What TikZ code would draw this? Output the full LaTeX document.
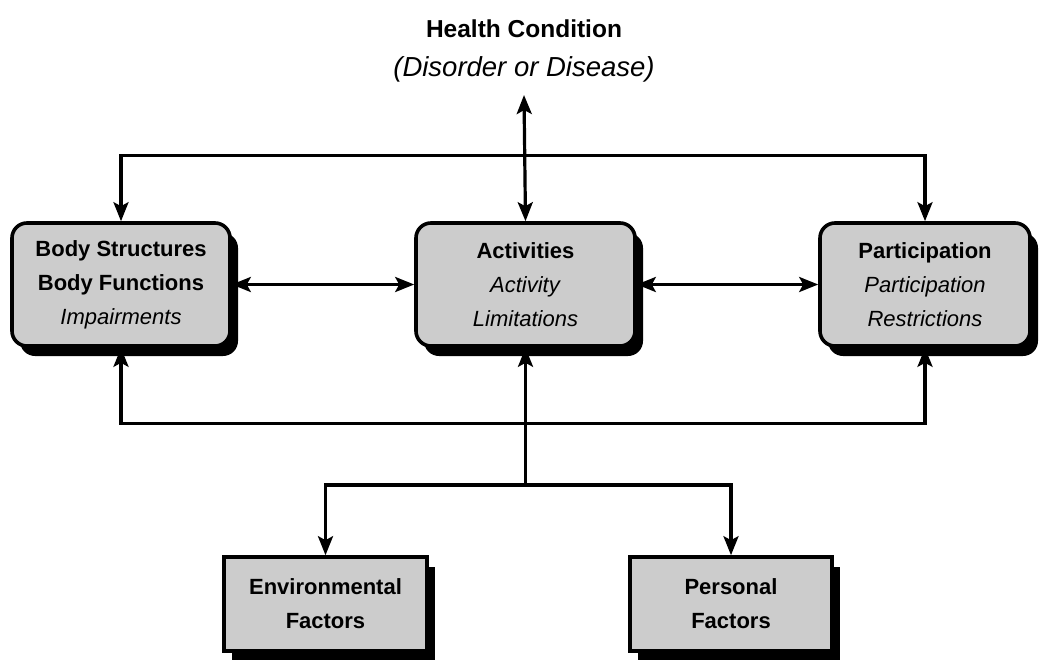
\documentclass[tikz,border=0pt]{standalone}
\usepackage{fontspec}
\setmainfont{Liberation Sans}
\usetikzlibrary{positioning}
\usetikzlibrary{arrows.meta}
\usetikzlibrary{shadows}
\newcommand{\boxfont}{\fontsize{22}{34}\selectfont}

\begin{document}
\begin{tikzpicture}[x=1pt, y=-1pt,
    >={Stealth[length=19pt, width=15pt, inset=4pt]},
    link/.style={line width=3.2pt},
    compbox/.style={draw, line width=3.6pt, fill=black!20, rounded corners=15pt,
        minimum width=218pt, minimum height=123pt, align=center, font=\boxfont,
        drop shadow={shadow xshift=8pt, shadow yshift=-10pt, fill=black, opacity=1}},
    factorbox/.style={compbox, rounded corners=0pt, minimum width=203pt, minimum height=94pt}]
                \useasboundingbox (0,0) rectangle (1039,659);

                % Health condition
                \node (hc) at (524,29) {\fontsize{24.5}{28}\selectfont\bfseries Health Condition};
                \node[inner sep=13pt] (dis) at (524,69) {\fontsize{27.5}{30}\selectfont\itshape (Disorder or Disease)};

                % Components
                \node[compbox] (body) at (121,284.5) {\textbf{Body Structures}\\\textbf{Body Functions}\\\textit{Impairments}};
                \node[compbox, minimum width=219pt] (act) at (525.5,284.5) {\textbf{Activities}\\\textit{Activity}\\\textit{Limitations}};
                \node[compbox, minimum width=210pt] (part) at (925,284.5) {\textbf{Participation}\\\textit{Participation}\\\textit{Restrictions}};

                % Contextual factors
                \node[factorbox] (env) at (325.5,604) {\textbf{Environmental}\\\textbf{Factors}};
                \node[factorbox, minimum width=202pt] (pers) at (731,604) {\textbf{Personal}\\\textbf{Factors}};
                \coordinate (split) at (525.5,485);

                % Upper links
                \draw[link, <->] (dis.south) -- (act.north);
                \draw[link, <->] (body.north) -- ++(0,-66) -| (part.north);
                \draw[link, <->] (body.east) -- (act.west);
                \draw[link, <->] (act.east) -- (part.west);

                % Lower links
                \draw[link, <->] (body.south) -- ++(0,76) -| (part.south);
                \draw[link, ->] (split) -- (act.south);
                \draw[link, <->] (env.north) |- (split) -| (pers.north);
\end{tikzpicture}
\end{document}
